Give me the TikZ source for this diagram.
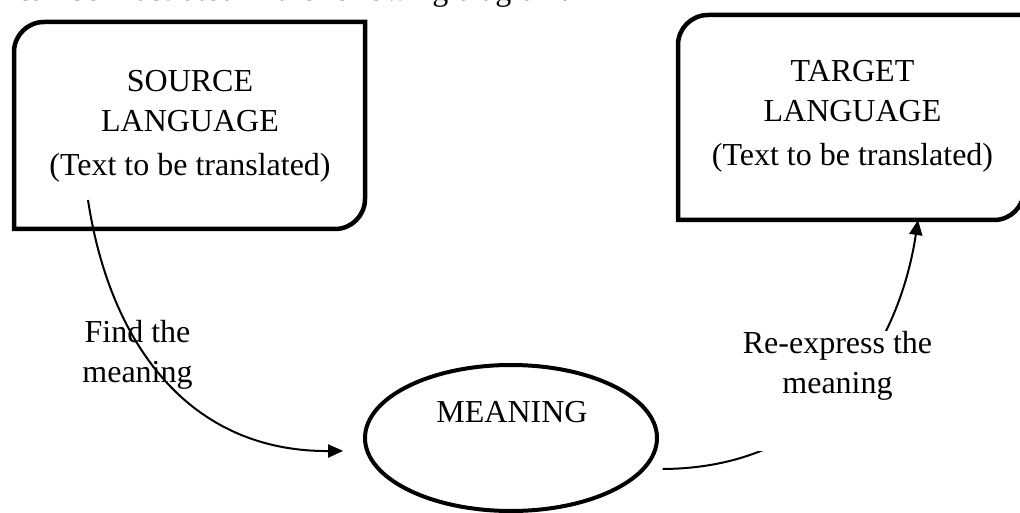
\documentclass[tikz,border=0pt]{standalone}
\usepackage{fontspec}
\setmainfont{Liberation Serif}
\usetikzlibrary{arrows.meta,shapes.geometric}
\tikzset{
  boxarea/.style={draw=none, inner sep=0pt, outer sep=0pt},
  boxline/.style={line width=4.5pt},
  txt/.style={font=\fontsize{32}{40}\selectfont, align=center, inner sep=0pt},
  conn/.style={line width=2pt},
  arr/.style={-{Triangle[length=15pt,width=13pt]}},
}
\begin{document}
\begin{tikzpicture}[x=1pt,y=1pt]
\useasboundingbox (0,0) rectangle (1020,512);
\fill[white] (0,0) rectangle (1020,512);
\clip (0,0) rectangle (1020,512);
\node[txt, anchor=base west] (intro) at (17,511) {can be illustrated in the following diagram.};
% source box
\node[boxarea, minimum width=351pt, minimum height=207pt] (src) at (189.5,386.5) {};
\draw[boxline] (src.south west) -- ([yshift=-30pt]src.north west)
  arc[start angle=180,end angle=90,radius=30pt] -- (src.north east)
  -- ([yshift=30pt]src.south east) arc[start angle=0,end angle=-90,radius=30pt] -- cycle;
\node[txt] (srctext) at (190,386) {SOURCE\\LANGUAGE\\[4pt](Text to be translated)};
% target box
\node[boxarea, minimum width=346pt, minimum height=205pt] (tgt) at (851,394.5) {};
\draw[boxline] (tgt.south west) -- ([yshift=-30pt]tgt.north west)
  arc[start angle=180,end angle=90,radius=30pt] -- (tgt.north east)
  -- ([yshift=30pt]tgt.south east) arc[start angle=0,end angle=-90,radius=30pt] -- cycle;
\node[txt] (tgttext) at (852.5,396) {TARGET\\LANGUAGE\\[4pt](Text to be translated)};
% meaning
\node[draw, ellipse, line width=4pt, minimum width=292pt, minimum height=146pt, inner sep=0pt] (mean) at (511,74) {};
\node[txt, anchor=base] (meantext) at (512,90) {MEANING};
% connectors
\coordinate (s1) at ([xshift=-101.5pt,yshift=29pt]src.south);
\draw[conn, arr, shorten >=22pt] (s1) .. controls (110,167) and (190,60) .. (mean.185);
\node[txt] (findlbl) at (137.5,157) {Find the\\meaning};
\draw[conn, arr, shorten <=17pt] (mean.-13) .. controls (830,44) and (900,172) .. ([xshift=67pt]tgt.south);
\node[txt, fill=white] (relbl) at (837.5,121) {\parbox[c][120pt][t]{200pt}{\centering Re-express the\\meaning}};
\end{tikzpicture}
\end{document}
